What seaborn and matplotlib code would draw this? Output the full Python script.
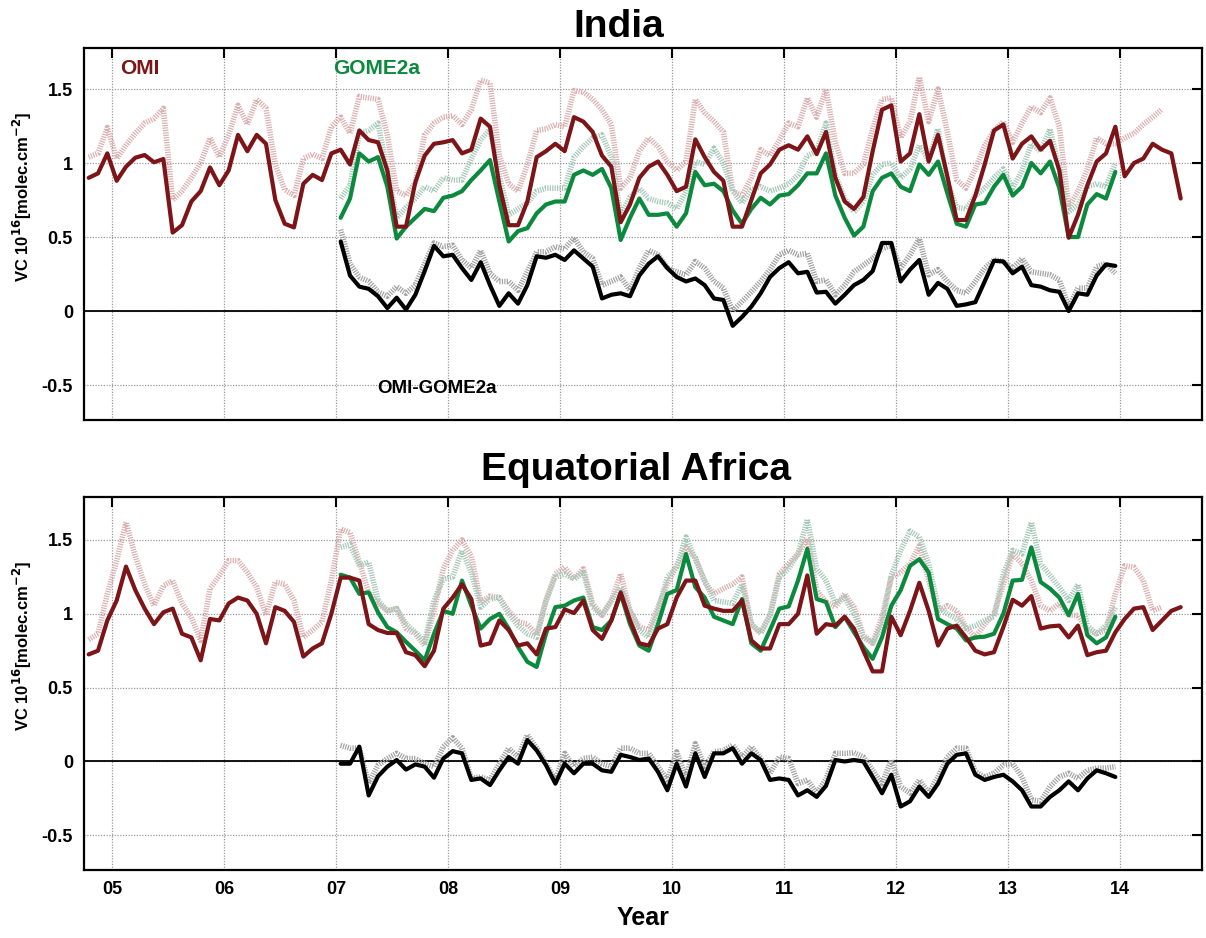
import numpy as np
import pandas as pd
import matplotlib
matplotlib.use("Agg")
import matplotlib.pyplot as plt
import seaborn as sns

# ---------------- data (monthly means, 10^16 molec/cm2) ----------------
omi_start, omi_n = "2004-10-01", 118          # Oct 2004 - Jul 2014
omi_dot_n = 116                               # Oct 2004 - May 2014
gome_start, gome_n = "2007-01-01", 84         # Jan 2007 - Dec 2013

india_omi = [0.90, 0.93, 1.065,
             0.88, 0.975, 1.036, 1.054, 1.005, 1.027, 0.53, 0.58, 0.74, 0.81, 0.97, 0.85,
             0.95, 1.19, 1.08, 1.19, 1.13, 0.75, 0.59, 0.565, 0.86, 0.92, 0.885, 1.065,
             1.09, 0.99, 1.22, 1.155, 1.14, 0.95, 0.57, 0.57, 0.87, 1.05, 1.13, 1.14,
             1.155, 1.065, 1.09, 1.30, 1.245, 0.85, 0.58, 0.58, 0.74, 1.04, 1.08, 1.13,
             1.08, 1.31, 1.28, 1.21, 1.05, 0.975, 0.60, 0.72, 0.90, 0.975, 1.01, 0.92,
             0.81, 0.84, 1.16, 1.04, 0.94, 0.88, 0.57, 0.57, 0.75, 0.93, 0.99, 1.09,
             1.12, 1.09, 1.18, 1.06, 1.21, 0.90, 0.74, 0.69, 0.77, 1.08, 1.36, 1.39,
             1.01, 1.065, 1.33, 1.01, 1.19, 0.91, 0.615, 0.615, 0.78, 0.99, 1.22, 1.26,
             1.03, 1.13, 1.18, 1.09, 1.15, 0.95, 0.495, 0.65, 0.85, 1.01, 1.065, 1.245,
             0.91, 1.0, 1.03, 1.13, 1.09, 1.065, 0.76]
india_omi_alt = [1.04, 1.065, 1.24,
                 1.03, 1.12, 1.20, 1.27, 1.30, 1.37, 0.75, 0.81, 0.90, 1.0, 1.17, 1.04,
                 1.19, 1.39, 1.26, 1.43, 1.37, 0.99, 0.82, 0.78, 1.03, 1.06, 1.03, 1.245,
                 1.31, 1.20, 1.45, 1.44, 1.43, 1.19, 0.81, 0.78, 0.87, 1.19, 1.27, 1.31,
                 1.32, 1.26, 1.36, 1.56, 1.54, 1.05, 0.86, 0.81, 0.99, 1.22, 1.23, 1.26,
                 1.245, 1.49, 1.48, 1.43, 1.36, 1.26, 0.83, 0.90, 1.08, 1.17, 1.11, 1.01,
                 0.95, 1.01, 1.43, 1.34, 1.28, 1.21, 0.81, 0.78, 0.90, 1.09, 1.05, 1.155,
                 1.27, 1.245, 1.44, 1.31, 1.50, 1.14, 0.93, 0.93, 0.99, 1.23, 1.43, 1.44,
                 1.17, 1.28, 1.58, 1.28, 1.50, 1.21, 0.885, 0.83, 0.96, 1.12, 1.22, 1.28,
                 1.14, 1.27, 1.38, 1.34, 1.44, 1.245, 0.70, 0.81, 0.96, 1.17, 1.13, 1.13,
                 1.17, 1.20, 1.26, 1.31, 1.365]
india_gome = [0.63, 0.76, 1.065, 1.01, 1.04, 0.84, 0.49, 0.57, 0.63, 0.69, 0.675, 0.765,
              0.78, 0.81, 0.885, 0.95, 1.02, 0.74, 0.47, 0.54, 0.56, 0.66, 0.72, 0.74,
              0.74, 0.92, 0.95, 0.92, 0.96, 0.83, 0.48, 0.63, 0.76, 0.65, 0.65, 0.66,
              0.57, 0.66, 0.94, 0.85, 0.86, 0.81, 0.68, 0.59, 0.69, 0.765, 0.72, 0.78,
              0.79, 0.85, 0.93, 0.93, 1.065, 0.78, 0.63, 0.51, 0.57, 0.81, 0.90, 0.93,
              0.84, 0.81, 0.99, 0.92, 1.01, 0.795, 0.59, 0.57, 0.72, 0.73, 0.84, 0.92,
              0.78, 0.84, 1.0, 0.93, 1.01, 0.83, 0.50, 0.50, 0.72, 0.79, 0.76, 0.94]
india_gome_alt = [0.76, 0.85, 1.20, 1.22, 1.27, 0.95, 0.63, 0.70, 0.76, 0.84, 0.81, 0.90,
                  0.885, 0.885, 1.03, 1.155, 1.23, 0.92, 0.65, 0.69, 0.73, 0.81, 0.83, 0.83,
                  0.83, 1.04, 1.11, 1.17, 1.19, 1.04, 0.65, 0.77, 0.83, 0.76, 0.74, 0.73,
                  0.69, 0.81, 1.01, 0.99, 1.10, 1.0, 0.81, 0.73, 0.82, 0.84, 0.81, 0.83,
                  0.86, 0.92, 1.05, 1.08, 1.27, 0.92, 0.76, 0.67, 0.74, 0.92, 0.99, 1.0,
                  0.90, 0.96, 1.12, 1.02, 1.23, 0.87, 0.70, 0.69, 0.78, 0.83, 0.90, 0.96,
                  0.83, 0.95, 1.13, 1.08, 1.23, 0.96, 0.67, 0.72, 0.84, 0.86, 0.84, 1.0]
india_diff = [0.47, 0.24, 0.165, 0.15, 0.10, 0.02, 0.09, 0.01, 0.11, 0.27, 0.44, 0.37,
              0.38, 0.29, 0.21, 0.33, 0.175, 0.035, 0.12, 0.05, 0.175, 0.37, 0.36, 0.38,
              0.345, 0.41, 0.355, 0.30, 0.085, 0.11, 0.12, 0.10, 0.24, 0.32, 0.37, 0.29,
              0.23, 0.20, 0.22, 0.175, 0.085, 0.075, -0.10, -0.04, 0.03, 0.12, 0.23, 0.29,
              0.33, 0.255, 0.265, 0.125, 0.13, 0.05, 0.11, 0.175, 0.21, 0.27, 0.46, 0.46,
              0.20, 0.28, 0.345, 0.11, 0.19, 0.15, 0.035, 0.045, 0.06, 0.20, 0.34, 0.335,
              0.255, 0.30, 0.175, 0.165, 0.14, 0.13, 0.0, 0.12, 0.11, 0.24, 0.315, 0.305]
india_diff_alt = [0.55, 0.32, 0.23, 0.20, 0.13, 0.10, 0.165, 0.12, 0.175, 0.32, 0.46, 0.435,
                  0.445, 0.345, 0.29, 0.41, 0.255, 0.20, 0.20, 0.14, 0.265, 0.40, 0.40, 0.435,
                  0.42, 0.495, 0.40, 0.355, 0.175, 0.20, 0.23, 0.14, 0.29, 0.41, 0.38, 0.29,
                  0.265, 0.245, 0.335, 0.29, 0.20, 0.155, 0.0, 0.065, 0.13, 0.20, 0.28, 0.38,
                  0.41, 0.38, 0.39, 0.20, 0.21, 0.11, 0.175, 0.265, 0.31, 0.355, 0.42, 0.445,
                  0.29, 0.38, 0.49, 0.245, 0.28, 0.20, 0.14, 0.12, 0.20, 0.29, 0.345, 0.335,
                  0.29, 0.355, 0.265, 0.255, 0.245, 0.21, 0.03, 0.155, 0.155, 0.30, 0.32, 0.255]

africa_omi = [0.725, 0.75, 0.955,
              1.09, 1.32, 1.16, 1.035, 0.93, 1.01, 1.035, 0.865, 0.84, 0.685, 0.965, 0.955,
              1.07, 1.11, 1.09, 1.0, 0.80, 1.045, 1.02, 0.945, 0.71, 0.765, 0.80, 1.0,
              1.245, 1.245, 1.225, 0.93, 0.89, 0.87, 0.87, 0.74, 0.72, 0.645, 0.75, 1.035,
              1.11, 1.20, 1.10, 0.785, 0.80, 0.955, 0.89, 0.785, 0.80, 0.725, 0.90, 0.91,
              1.03, 1.005, 1.09, 0.89, 0.83, 0.955, 1.145, 0.955, 0.80, 0.785, 0.90, 0.93,
              1.11, 1.225, 1.225, 1.055, 1.035, 1.02, 1.02, 1.09, 0.82, 0.765, 0.765, 0.93,
              0.93, 1.0, 1.26, 0.865, 0.93, 0.92, 0.98, 0.90, 0.75, 0.61, 0.61, 0.98,
              0.855, 1.02, 1.21, 1.02, 0.785, 0.90, 0.92, 0.84, 0.75, 0.725, 0.74, 0.91,
              1.095, 1.055, 1.12, 0.90, 0.915, 0.92, 0.84, 0.92, 0.72, 0.74, 0.75, 0.875,
              0.965, 1.035, 1.045, 0.89, 0.955, 1.02, 1.045]
africa_omi_alt = [0.825, 0.865, 1.135,
                  1.36, 1.62, 1.39, 1.20, 1.055, 1.19, 1.225, 1.07, 0.975, 0.82, 1.17, 1.26,
                  1.36, 1.36, 1.28, 1.18, 0.99, 1.215, 1.20, 1.09, 0.84, 0.89, 0.945, 1.225,
                  1.575, 1.55, 1.35, 1.145, 1.07, 1.02, 1.035, 0.90, 0.865, 0.785, 1.02, 1.305,
                  1.43, 1.50, 1.39, 1.08, 1.12, 1.11, 1.02, 0.945, 0.93, 0.855, 1.09, 1.27,
                  1.315, 1.235, 1.305, 1.07, 0.99, 1.09, 1.27, 1.02, 0.91, 0.89, 1.045, 1.20,
                  1.325, 1.45, 1.38, 1.215, 1.135, 1.17, 1.20, 1.25, 0.93, 0.865, 0.99, 1.27,
                  1.34, 1.405, 1.51, 1.16, 1.08, 1.045, 1.135, 1.045, 0.855, 0.80, 0.98, 1.25,
                  1.28, 1.34, 1.46, 1.225, 1.02, 1.055, 1.02, 0.91, 0.84, 0.93, 1.0, 1.20,
                  1.405, 1.34, 1.225, 1.055, 1.02, 1.07, 0.99, 0.99, 0.89, 0.865, 0.89, 1.135,
                  1.325, 1.315, 1.225, 1.02, 1.045]
africa_gome = [1.265, 1.245, 1.135, 1.145, 1.01, 0.91, 0.875, 0.81, 0.75, 0.685, 0.865, 1.02,
               1.0, 1.225, 1.055, 0.90, 0.965, 1.0, 0.90, 0.775, 0.675, 0.64, 0.865, 1.045,
               1.055, 1.09, 1.11, 0.91, 0.89, 0.955, 1.135, 0.93, 0.785, 0.75, 0.93, 1.135,
               1.16, 1.405, 1.18, 1.11, 0.98, 0.955, 0.93, 1.10, 0.80, 0.75, 0.89, 1.035,
               1.05, 1.225, 1.44, 1.10, 1.08, 0.91, 0.98, 0.875, 0.775, 0.695, 0.84, 1.055,
               1.16, 1.325, 1.37, 1.28, 0.965, 0.93, 0.90, 0.82, 0.84, 0.845, 0.865, 1.0,
               1.225, 1.23, 1.45, 1.215, 1.17, 1.11, 0.99, 1.135, 0.855, 0.80, 0.84, 0.98]
africa_gome_alt = [1.45, 1.47, 1.325, 1.35, 1.09, 1.02, 1.035, 0.93, 0.875, 0.81, 1.09, 1.235,
                   1.25, 1.43, 1.28, 1.045, 1.10, 1.11, 1.0, 0.92, 0.865, 0.84, 1.09, 1.25,
                   1.27, 1.235, 1.28, 1.045, 0.99, 1.09, 1.18, 1.02, 0.89, 0.84, 1.02, 1.25,
                   1.315, 1.52, 1.37, 1.225, 1.09, 1.08, 1.07, 1.20, 0.93, 0.875, 0.99, 1.25,
                   1.305, 1.405, 1.64, 1.305, 1.225, 1.07, 1.11, 1.0, 0.84, 0.80, 0.93, 1.26,
                   1.43, 1.56, 1.52, 1.34, 1.045, 1.0, 0.965, 0.90, 0.92, 0.955, 0.98, 1.27,
                   1.43, 1.405, 1.62, 1.34, 1.26, 1.18, 1.09, 1.20, 0.92, 0.865, 0.92, 1.045]
africa_diff = [-0.015, -0.015, 0.10, -0.23, -0.10, -0.035, 0.01, -0.055, -0.02, -0.035, -0.11, 0.02,
               0.07, 0.055, -0.125, -0.115, -0.16, -0.06, 0.03, -0.015, 0.145, 0.075, -0.025, -0.15,
               -0.015, -0.08, -0.015, -0.015, -0.06, -0.07, 0.045, 0.03, 0.01, 0.02, -0.07, -0.195,
               -0.015, -0.17, 0.055, -0.105, 0.055, 0.055, 0.09, -0.015, 0.055, 0.01, -0.125, -0.115,
               -0.125, -0.23, -0.195, -0.24, -0.165, 0.01, 0.0, 0.01, 0.0, -0.105, -0.215, -0.09,
               -0.305, -0.27, -0.17, -0.24, -0.15, -0.015, 0.045, 0.055, -0.09, -0.125, -0.105, -0.09,
               -0.135, -0.195, -0.305, -0.305, -0.24, -0.195, -0.135, -0.195, -0.115, -0.06, -0.08, -0.105]
africa_diff_alt = [0.11, 0.09, 0.09, -0.15, -0.025, 0.02, 0.055, 0.02, 0.02, -0.015, -0.035, 0.10,
                   0.16, 0.09, -0.115, -0.105, -0.125, -0.015, 0.09, 0.03, 0.18, 0.09, -0.015, -0.125,
                   0.055, -0.035, 0.02, 0.03, -0.015, -0.035, 0.09, 0.09, 0.055, 0.055, -0.035, -0.125,
                   0.065, -0.105, 0.12, -0.035, 0.065, 0.075, 0.11, 0.03, 0.10, 0.02, -0.08, 0.03,
                   0.02, -0.15, -0.125, -0.215, -0.12, 0.055, 0.055, 0.06, 0.03, -0.06, -0.15, 0.01,
                   -0.17, -0.215, -0.125, -0.215, -0.105, 0.03, 0.09, 0.09, -0.07, -0.105, -0.08, -0.025,
                   -0.015, -0.105, -0.26, -0.27, -0.17, -0.105, -0.08, -0.115, -0.06, -0.045, -0.045, -0.035]

year_ticks = [2005, 2006, 2007, 2008, 2009, 2010, 2011, 2012, 2013, 2014]
year_labels = ["05", "06", "07", "08", "09", "10", "11", "12", "13", "14"]
y_ticks = [-0.5, 0, 0.5, 1, 1.5]
y_labels = ["-0.5", "0", "0.5", "1", "1.5"]


def dec_year(start, n):
    d = pd.date_range(start, periods=n, freq="MS")
    return d.year + (d.month - 0.5) / 12.0


t_omi = dec_year(omi_start, omi_n)
t_omi_dot = dec_year(omi_start, omi_dot_n)
t_gome = dec_year(gome_start, gome_n)

# ---------------- style ----------------
sns.set_theme(style="white")
plt.rcParams["font.family"] = ["Liberation Sans Narrow", "Liberation Sans", "DejaVu Sans"]
plt.rcParams["font.weight"] = "bold"
for k in ["text.color", "axes.labelcolor", "xtick.color", "ytick.color"]:
    plt.rcParams[k] = "black"

C_OMI = "#7d1418"
C_GOME = "#0b8a3e"
C_OMI_L = "#dbb0b1"
C_GOME_L = "#a6c9b9"
C_DIFF_L = "#a3a3a3"
DOT = (0, (0.22, 0.22))

fig = plt.figure(figsize=(12.06, 9.38), dpi=100)
ax1 = fig.add_axes([84 / 1206, 1 - 420 / 938, 1118 / 1206, 372 / 938])
ax2 = fig.add_axes([84 / 1206, 1 - 870 / 938, 1118 / 1206, 373 / 938])

panels = [
    (ax1, india_omi, india_omi_alt, india_gome, india_gome_alt, india_diff, india_diff_alt, (-0.736, 1.777)),
    (ax2, africa_omi, africa_omi_alt, africa_gome, africa_gome_alt, africa_diff, africa_diff_alt, (-0.735, 1.791)),
]

for ax, omi, omi_alt, gome, gome_alt, diff, diff_alt, ylim in panels:
    ax.axhline(0, color="black", lw=1.3, zorder=1)
    sns.lineplot(x=t_omi_dot, y=omi_alt, ax=ax, color=C_OMI_L, lw=4, linestyle=DOT, zorder=2)
    sns.lineplot(x=t_gome, y=gome_alt, ax=ax, color=C_GOME_L, lw=4, linestyle=DOT, zorder=2)
    sns.lineplot(x=t_gome, y=diff_alt, ax=ax, color=C_DIFF_L, lw=4, linestyle=DOT, zorder=2)
    sns.lineplot(x=t_gome, y=gome, ax=ax, color=C_GOME, lw=3, zorder=3)
    sns.lineplot(x=t_omi, y=omi, ax=ax, color=C_OMI, lw=3, zorder=4)
    sns.lineplot(x=t_gome, y=diff, ax=ax, color="black", lw=3, zorder=4)

    ax.set_xlim(2004.75, 2014.732)
    ax.set_ylim(*ylim)
    ax.set_xticks(year_ticks)
    ax.set_yticks(y_ticks)
    ax.set_yticklabels(y_labels, fontsize=13, fontweight="bold")
    ax.grid(True, color="#9a9a9a", linestyle=(0, (1, 1.2)), lw=0.9)
    ax.tick_params(direction="in", length=7, width=1.5, top=True, right=True,
                   labelright=False, pad=8)
    for s in ax.spines.values():
        s.set_linewidth(1.6)
        s.set_color("black")
    ax.set_xlabel("")
    ax.set_ylabel("VC 10$^{16}$[molec.cm$^{-2}$]", fontsize=12, fontweight="bold")
    ax.yaxis.set_label_coords(-0.045, 0.60)

ax1.set_xticklabels([])
ax2.set_xticklabels(year_labels, fontsize=13, fontweight="bold")
ax2.set_xlabel("Year", fontsize=18, fontweight="bold", labelpad=6)

ax1.text(2005.07, 1.64, "OMI", color=C_OMI, fontsize=15, fontweight="bold", va="center")
ax1.text(2006.97, 1.64, "GOME2a", color=C_GOME, fontsize=15, fontweight="bold", va="center")
ax1.text(2007.37, -0.52, "OMI-GOME2a", color="black", fontsize=13.5, fontweight="bold", va="center")

fig.text(619 / 1206, 1 - 27 / 938, "India", fontsize=28, fontweight="bold", ha="center", va="center")
fig.text(636 / 1206, 1 - 470 / 938, "Equatorial Africa", fontsize=28, fontweight="bold",
         ha="center", va="center")

fig.savefig("out.png", dpi=100)
